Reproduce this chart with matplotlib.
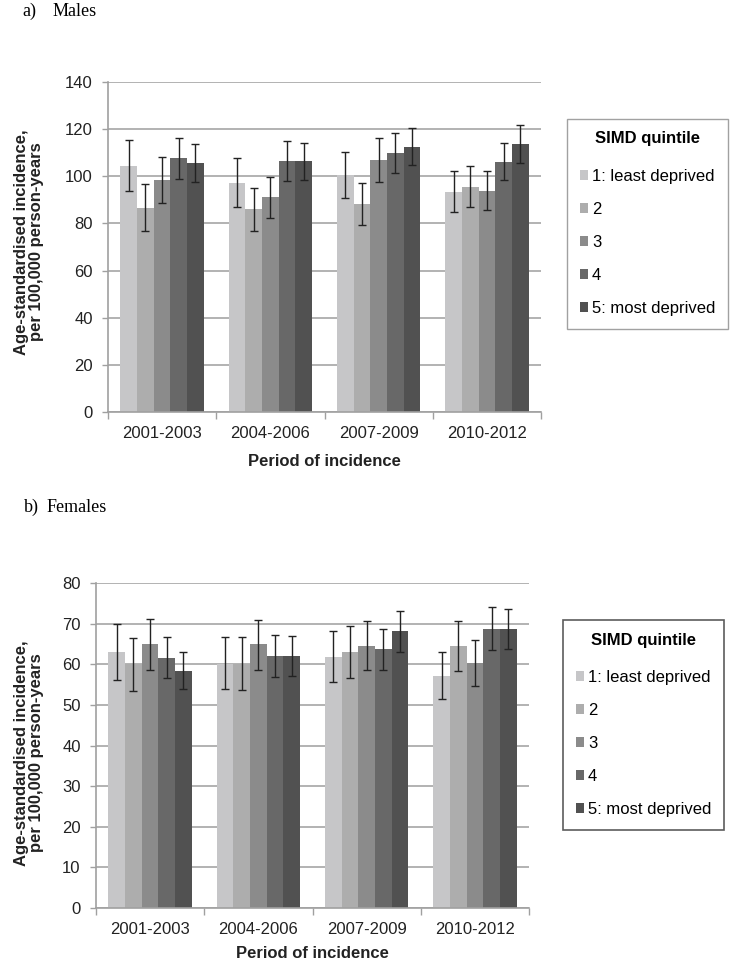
import numpy as np
import matplotlib
matplotlib.use('Agg')
import matplotlib.pyplot as plt
from matplotlib.patches import Patch

plt.rcParams['font.family'] = ['Liberation Sans', 'DejaVu Sans']

periods = ['2001-2003', '2004-2006', '2007-2009', '2010-2012']
quintiles = ['1: least deprived', '2', '3', '4', '5: most deprived']
colors = ['#c6c6c8', '#adadad', '#8b8b8b', '#686868', '#515151']

# rows = SIMD quintile, columns = period
males = [[104.4, 97.3, 100.4, 93.3],
         [86.7, 86.1, 88.4, 95.5],
         [98.4, 91.1, 106.8, 93.9],
         [107.6, 106.4, 109.9, 106.2],
         [105.5, 106.4, 112.6, 113.6]]
males_lo = [[93.6, 87.1, 90.9, 84.7],
            [76.9, 76.9, 79.5, 86.8],
            [88.8, 82.2, 97.6, 85.8],
            [99.0, 97.9, 101.3, 98.4],
            [97.5, 98.6, 104.7, 105.6]]
males_hi = [[115.3, 107.6, 110.2, 102.4],
            [96.6, 95.2, 97.3, 104.4],
            [108.3, 99.8, 116.1, 102.2],
            [116.4, 114.8, 118.4, 114.1],
            [113.6, 114.3, 120.6, 121.8]]

females = [[62.9, 60.1, 61.9, 57.2],
           [60.0, 60.0, 62.9, 64.5],
           [64.9, 64.9, 64.5, 60.2],
           [61.6, 62.0, 63.7, 68.8],
           [58.3, 62.0, 68.1, 68.6]]
females_lo = [[56.2, 53.8, 55.6, 51.5],
              [53.4, 53.7, 56.6, 58.4],
              [58.7, 58.7, 58.6, 54.6],
              [56.6, 56.9, 58.5, 63.5],
              [53.9, 57.2, 63.1, 63.8]]
females_hi = [[69.9, 66.6, 68.3, 63.0],
              [66.5, 66.6, 69.3, 70.7],
              [71.1, 71.0, 70.7, 66.0],
              [66.8, 67.2, 68.8, 74.2],
              [62.9, 66.9, 73.1, 73.7]]

W, H = 731, 974
fig = plt.figure(figsize=(W / 100, H / 100), dpi=100)


def px_axes(left, top, right, bottom):
    return fig.add_axes([left / W, 1 - bottom / H, (right - left) / W, (bottom - top) / H])


def draw_panel(ax, vals, lo, hi, ymax, step):
    x = np.arange(len(periods))
    w = 1 / 6.5
    for i in range(len(quintiles)):
        v = np.array(vals[i])
        err = [v - np.array(lo[i]), np.array(hi[i]) - v]
        ax.bar(x + (i - 2) * w, v, w, color=colors[i], zorder=2)
        ax.errorbar(x + (i - 2) * w, v, yerr=err, fmt='none', ecolor='#222222',
                    elinewidth=1.0, capsize=3, capthick=1.0, zorder=3)
    ax.set_xlim(-0.5, len(periods) - 0.5)
    ax.set_ylim(0, ymax)
    ax.set_yticks(np.arange(0, ymax + 1, step))
    ax.set_xticks(x)
    ax.set_xticklabels(periods)
    ax.set_xticks(np.arange(-0.5, len(periods)), minor=True)
    ax.tick_params(axis='x', which='major', length=0, pad=10, labelsize=12, labelcolor='#222222')
    ax.tick_params(axis='x', which='minor', length=5, color='#a0a0a0', width=1)
    ax.tick_params(axis='y', length=4, color='#a0a0a0', width=1, pad=7, labelsize=12, labelcolor='#222222')
    ax.yaxis.grid(True, color='#a6a6a6', linewidth=1.2, zorder=0)
    ax.set_axisbelow(True)
    for s in ['top', 'right']:
        ax.spines[s].set_visible(False)
    for s in ['left', 'bottom']:
        ax.spines[s].set_color('#a0a0a0')
        ax.spines[s].set_linewidth(1.2)


def add_legend(left, top, edge, lw):
    handles = [Patch(facecolor=c, edgecolor='none') for c in colors]
    leg = fig.legend(handles, quintiles, title='SIMD quintile', loc='upper left',
                     bbox_to_anchor=(left / W, 1 - top / H), fontsize=12,
                     title_fontproperties={'weight': 'bold', 'size': 12},
                     handlelength=0.5, handleheight=0.5, handletextpad=0.25,
                     labelspacing=1.08, borderpad=0.75, fancybox=False, borderaxespad=0)
    leg.get_frame().set_edgecolor(edge)
    leg.get_frame().set_linewidth(lw)
    # a bit more room between the title and the first entry
    leg._legend_box.sep = 1.08 * 12 + 3.3
    return leg


ylab = 'Age-standardised incidence,\nper 100,000 person-years'

# a) Males
ax1 = px_axes(108, 82, 541, 412)
draw_panel(ax1, males, males_lo, males_hi, 140, 20)
fig.text(22 / W, 1 - 11 / H, 'a)', family='Liberation Serif', fontsize=13, va='center')
fig.text(53 / W, 1 - 11 / H, 'Males', family='Liberation Serif', fontsize=13, va='center')
fig.text(29 / W, 1 - 242 / H, ylab, rotation=90, ha='center', va='center',
         fontsize=12, fontweight='bold', linespacing=1.0, color='#222222')
fig.text(324 / W, 1 - 462 / H, 'Period of incidence', ha='center', va='center',
         fontsize=12, fontweight='bold', color='#222222')
add_legend(567, 119, '#8a8a8a', 1.0)

# b) Females
ax2 = px_axes(96, 583, 529, 908)
draw_panel(ax2, females, females_lo, females_hi, 80, 10)
fig.text(24 / W, 1 - 507 / H, 'b)', family='Liberation Serif', fontsize=13, va='center')
fig.text(47 / W, 1 - 507 / H, 'Females', family='Liberation Serif', fontsize=13, va='center')
fig.text(29 / W, 1 - 753 / H, ylab, rotation=90, ha='center', va='center',
         fontsize=12, fontweight='bold', linespacing=1.0, color='#222222')
fig.text(312 / W, 1 - 953 / H, 'Period of incidence', ha='center', va='center',
         fontsize=12, fontweight='bold', color='#222222')
add_legend(563, 620, '#333333', 1.2)

fig.savefig('out.png', dpi=100)
